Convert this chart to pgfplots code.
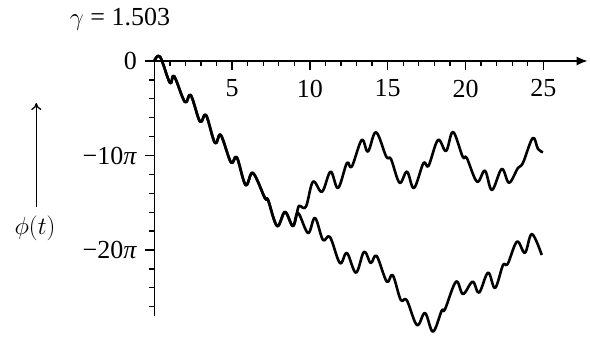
\documentclass[border=0pt]{standalone}
\usepackage{fontspec}
\setmainfont{Liberation Serif}
\usepackage{pgfplots}
\pgfplotsset{compat=1.18}
\usetikzlibrary{arrows.meta}

\begin{document}
\fontsize{26}{30}\selectfont
\begin{tikzpicture}[x=1pt,y=1pt]
\path[use as bounding box] (0pt,0pt) rectangle (590pt,338pt);
% parameter and axis label
\node at (120pt,319pt) {$\gamma$ = 1.503};
\draw[line width=1.3pt,-{To[length=7pt,width=10pt]}] (36.3pt,131pt) -- (36.3pt,235pt);
\node at (35pt,110pt) {$\phi(t)$};
\begin{axis}[
  at={(154.3pt,277pt)}, anchor=origin,
  x=15.56pt, y=9.45pt,
  xmin=0, xmax=27.85, ymin=-27, ymax=0,
  axis lines=middle,
  hide obscured x ticks=false,
  hide obscured y ticks=false,
  clip=false,
  axis line style={line width=1.5pt,-},
  x axis line style={-{Latex[length=11pt,width=9pt]}},
  tick align=center,
  major tick length=9pt, minor tick length=5.5pt,
  every tick/.style={black,line width=1.3pt},
  major x tick style={yshift=-4.5pt},
  minor x tick style={yshift=-2.75pt},
  major y tick style={xshift=-4.5pt},
  minor y tick style={xshift=-2.75pt},
  xtick={5,10,15,20,25},
  minor xtick={1,2,3,4,6,7,8,9,11,12,13,14,16,17,18,19,21,22,23,24},
  ytick={-20,-10,0},
  yticklabels={−20\textit{π},−10\textit{π},0},
  minor ytick={-26,-24,-22,-18,-16,-14,-12,-8,-6,-4,-2},
  /pgf/number format/assume math mode=true,
  xticklabel style={anchor=center,yshift=-23pt},
  yticklabel style={anchor=east,xshift=-4pt},
  tick label style={font=\fontsize{26}{30}\selectfont},
]
% branch that drifts back up
\addplot[black,line width=2.6pt,smooth,tension=0.6,line join=round] coordinates {
(0,0) (0.37,0.45) (1.01,-2.33) (1.27,-1.59) (1.97,-4.34) (2.34,-3.60)
(2.94,-6.42) (3.32,-5.71) (3.90,-8.68) (4.27,-7.83) (4.93,-10.74) (5.30,-10.19)
(5.87,-13.12) (6.34,-11.85) (7.11,-14.50) (7.31,-14.71) (7.89,-17.46) (8.40,-15.98)
(8.91,-17.46)
(9.24,-15.56) (9.36,-15.34) (9.75,-15.40) (10.20,-12.77) (10.78,-13.83) (11.33,-11.71)
(11.81,-13.44) (12.38,-10.79) (12.69,-11.19) (13.33,-8.36) (13.73,-9.58) (14.25,-7.54)
(14.91,-10.13) (15.21,-10.37) (15.76,-12.88) (16.24,-11.71) (16.69,-13.44) (17.30,-10.79)
(17.62,-11.11) (18.23,-8.36) (18.75,-9.52) (19.20,-7.51) (19.82,-10.13) (20.08,-10.26)
(20.74,-12.77) (21.25,-11.61) (21.70,-13.65) (22.33,-11.43) (22.80,-12.88) (23.37,-11.32)
(23.69,-10.79) (24.32,-8.15) (24.66,-9.31) (24.98,-9.66)
};
% branch that keeps falling
\addplot[black,line width=2.6pt,smooth,tension=0.6,line join=round] coordinates {
(0,0) (0.37,0.45) (1.01,-2.33) (1.27,-1.59) (1.97,-4.34) (2.34,-3.60)
(2.94,-6.42) (3.32,-5.71) (3.90,-8.68) (4.27,-7.83) (4.93,-10.74) (5.30,-10.19)
(5.87,-13.12) (6.34,-11.85) (7.11,-14.50) (7.31,-14.71) (7.89,-17.46) (8.40,-15.98)
(8.91,-17.46)
(9.24,-16.08) (9.88,-18.20) (10.33,-16.61) (10.84,-18.94) (11.29,-18.62) (11.93,-21.38)
(12.38,-20.32) (12.96,-22.40) (13.48,-20.18) (13.91,-21.38) (14.29,-20.63) (14.94,-23.35)
(15.32,-22.65) (15.84,-25.29) (16.22,-25.29) (16.88,-27.94) (17.40,-26.67) (17.91,-28.64)
(18.47,-26.42) (18.68,-26.28) (19.39,-23.35) (19.84,-24.66) (20.46,-23.35) (20.87,-24.52)
(21.45,-22.40) (21.90,-24.02) (22.41,-21.59) (22.71,-21.48) (23.31,-19.12) (23.82,-20.29)
(24.27,-18.31) (24.90,-20.53)
};
\end{axis}
\end{tikzpicture}
\end{document}
